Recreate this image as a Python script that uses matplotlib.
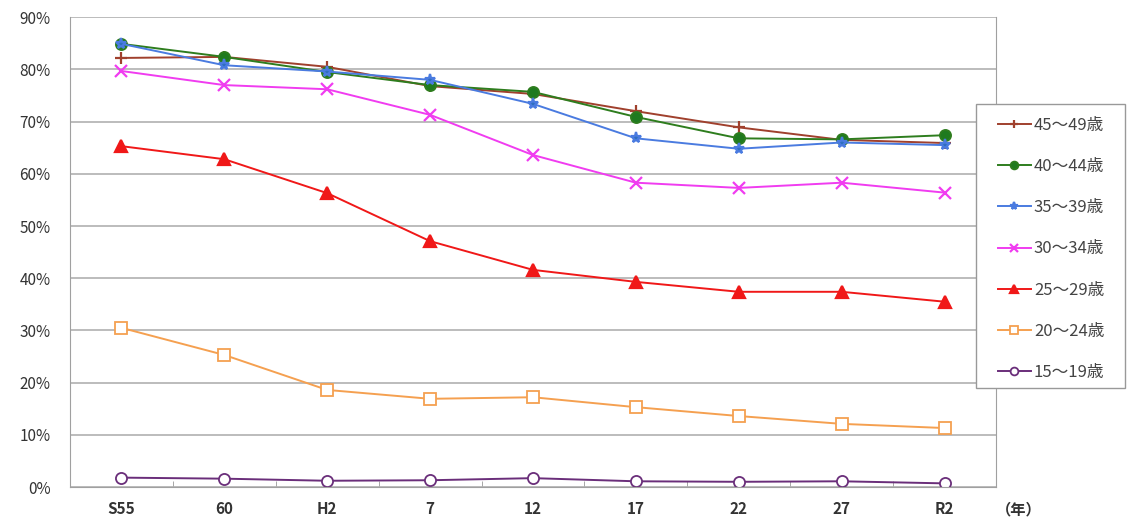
import matplotlib.pyplot as plt
from matplotlib.patches import Rectangle
from matplotlib.ticker import PercentFormatter, MultipleLocator

plt.rcParams['font.family'] = ['Noto Sans CJK JP', 'DejaVu Sans']

years = ['S55', '60', 'H2', '7', '12', '17', '22', '27', 'R2']

# 年齢階級別の有配偶率（%）
age_45_49 = [82.2, 82.4, 80.5, 76.8, 75.3, 72.0, 68.9, 66.5, 65.9]
age_40_44 = [84.9, 82.4, 79.5, 77.0, 75.7, 70.9, 66.8, 66.6, 67.4]
age_35_39 = [84.9, 80.8, 79.6, 78.0, 73.4, 66.8, 64.8, 66.0, 65.5]
age_30_34 = [79.7, 77.0, 76.2, 71.3, 63.6, 58.3, 57.3, 58.3, 56.4]
age_25_29 = [65.3, 62.8, 56.3, 47.1, 41.6, 39.3, 37.4, 37.4, 35.5]
age_20_24 = [30.5, 25.3, 18.6, 16.9, 17.2, 15.3, 13.6, 12.1, 11.3]
age_15_19 = [1.8, 1.6, 1.2, 1.3, 1.7, 1.1, 1.0, 1.1, 0.7]

series = [
    ('45～49歳', age_45_49, '#A0402D', '+', '#A0402D'),
    ('40～44歳', age_40_44, '#2E7D1E', 'o', '#1F7A1F'),
    ('35～39歳', age_35_39, '#4A7BE0', '*', '#2F6FC0'),
    ('30～34歳', age_30_34, '#F03CF0', 'x', '#F03CF0'),
    ('25～29歳', age_25_29, '#F01818', '^', '#F01818'),
    ('20～24歳', age_20_24, '#F5A050', 's', 'white'),
    ('15～19歳', age_15_19, '#6A2E7A', 'o', 'white'),
]

fig = plt.figure(figsize=(11.28, 5.22), dpi=100)
ax = fig.add_axes([0.062, 0.067, 0.821, 0.9])

x = list(range(len(years)))
for label, vals, col, mk, fc in series:
    ax.plot(x, vals, color=col, lw=1.4, marker=mk, markersize=8 if mk != 's' else 9,
            markerfacecolor=fc, markeredgecolor=col,
            markeredgewidth=1.3 if mk in 'so' else 1.6, label=label)

ax.set_xlim(-0.5, len(years) - 0.5)
ax.set_ylim(0, 90)
ax.yaxis.set_major_locator(MultipleLocator(10))
ax.yaxis.set_major_formatter(PercentFormatter(decimals=0))
ax.grid(axis='y', color='#b0b0b0', lw=1.2)
ax.set_axisbelow(True)

ax.set_xticks(x)
ax.set_xticklabels(years, fontsize=11, color='#333333', fontweight='bold')
ax.set_xticks([i + 0.5 for i in x[:-1]], minor=True)
ax.tick_params(axis='x', which='major', length=0, pad=10)
ax.tick_params(axis='x', which='minor', length=4, direction='in', color='#999999')
ax.tick_params(axis='y', length=0, labelsize=11, labelcolor='#333333', pad=14)

for side in ['left', 'right', 'bottom']:
    ax.spines[side].set_color('#a0a0a0')
ax.spines['top'].set_visible(False)

ax.text(1.0, -0.03, '（年）', transform=ax.transAxes, ha='left', va='top',
        fontsize=11, color='#333333', fontweight='bold')

# 凡例の枠（右端まではみ出す白い箱）
box = Rectangle((976 / 1128, 1 - 388 / 522), 149 / 1128, 284 / 522,
                transform=fig.transFigure, facecolor='white',
                edgecolor='#999999', lw=1.0, zorder=3)
fig.patches.append(box)

leg = fig.legend(loc='upper left', bbox_to_anchor=(998 / 1128, 1 - 117 / 522),
                 fontsize=12, frameon=False, labelspacing=1.45,
                 handlelength=1.95, borderpad=0, handletextpad=0.2,
                 borderaxespad=0, markerscale=0.7)
leg.set_zorder(4)
for t in leg.get_texts():
    t.set_color('#444444')

fig.savefig('out.png', dpi=100)
